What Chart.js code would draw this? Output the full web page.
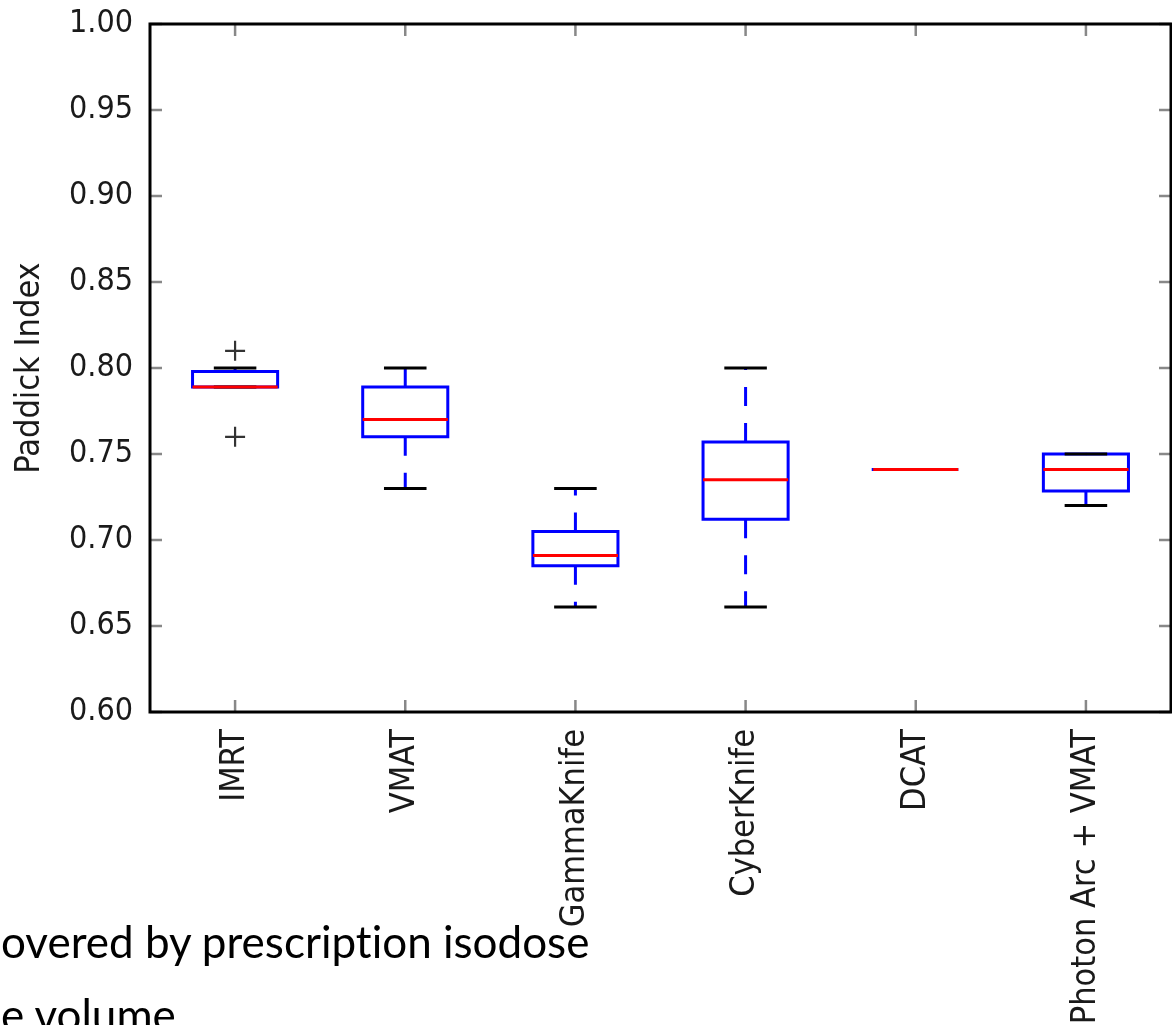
<!DOCTYPE html>
<html>
<head>
<meta charset="utf-8">
<script src="https://cdn.jsdelivr.net/npm/chart.js@4.4.1/dist/chart.umd.min.js"></script>
<style>
html,body{margin:0;padding:0;background:#fff;width:1172px;height:1025px;overflow:hidden;}
#wrap{position:absolute;left:0;top:0;width:1172px;height:1025px;}
.note{position:absolute;left:1px;font-family:Lato,'Open Sans',sans-serif;font-size:44px;line-height:44px;color:#000;white-space:nowrap;font-variant-ligatures:none;font-feature-settings:"liga" 0;}
</style>
</head>
<body>
<div id="wrap"><canvas id="c" width="1172" height="1025"></canvas></div>
<div class="note" style="top:919px">overed by prescription isodose</div>
<div class="note" style="top:992px">e volume</div>
<script>
// ---- data ----
const categories   = ['IMRT', 'VMAT', 'GammaKnife', 'CyberKnife', 'DCAT', 'Photon Arc + VMAT'];
const whiskerLow   = [0.789, 0.730, 0.661, 0.661, 0.741, 0.720];
const quartile1    = [0.789, 0.760, 0.685, 0.712, 0.741, 0.7285];
const medians      = [0.789, 0.770, 0.691, 0.735, 0.741, 0.741];
const quartile3    = [0.798, 0.789, 0.705, 0.757, 0.741, 0.750];
const whiskerHigh  = [0.800, 0.800, 0.730, 0.800, 0.741, 0.750];
const outlierCats  = ['IMRT', 'IMRT'];
const outlierVals  = [0.810, 0.760];
const yTickValues  = [0.60, 0.65, 0.70, 0.75, 0.80, 0.85, 0.90, 0.95, 1.00];
const yTitle       = 'Paddick Index';

const FONT = "'DejaVu Sans Condensed', 'DejaVu Sans', sans-serif";
const BOX_HALF = 0.25, CAP_HALF = 0.125;

const boxPts = [], medPts = [], capPts = [];
const datasets = [];
categories.forEach((c, i) => {
  const x = i + 1;
  boxPts.push({x: x - BOX_HALF, y: quartile1[i]}, {x: x + BOX_HALF, y: quartile1[i]},
              {x: x + BOX_HALF, y: quartile3[i]}, {x: x - BOX_HALF, y: quartile3[i]},
              {x: x - BOX_HALF, y: quartile1[i]}, {x: x, y: null});
  medPts.push({x: x - BOX_HALF, y: medians[i]}, {x: x + BOX_HALF, y: medians[i]}, {x: x, y: null});
  capPts.push({x: x - CAP_HALF, y: whiskerHigh[i]}, {x: x + CAP_HALF, y: whiskerHigh[i]}, {x: x, y: null},
              {x: x - CAP_HALF, y: whiskerLow[i]}, {x: x + CAP_HALF, y: whiskerLow[i]}, {x: x, y: null});
  // whiskers start at the box edge
  [[quartile3[i], whiskerHigh[i]], [quartile1[i], whiskerLow[i]]].forEach(([a, b]) => {
    datasets.push({
      data: [{x: x, y: a}, {x: x, y: b}], showLine: true, borderColor: '#0000ff', borderWidth: 3,
      borderDash: [19, 17], borderCapStyle: 'butt', pointRadius: 0, order: 5
    });
  });
});
datasets.push({data: boxPts, showLine: true, borderColor: '#0000ff', borderWidth: 3,
  borderJoinStyle: 'miter', borderCapStyle: 'square', pointRadius: 0, order: 4, spanGaps: false});
datasets.push({data: capPts, showLine: true, borderColor: '#000000', borderWidth: 3,
  borderCapStyle: 'butt', pointRadius: 0, order: 3, spanGaps: false});
datasets.push({data: medPts, showLine: true, borderColor: '#ff0000', borderWidth: 3,
  borderCapStyle: 'butt', pointRadius: 0, order: 2, spanGaps: false});
datasets.push({data: outlierVals.map((v, k) => ({x: categories.indexOf(outlierCats[k]) + 1, y: v})),
  showLine: false, pointStyle: 'cross', pointRadius: 10, borderColor: '#333', borderWidth: 2.2,
  backgroundColor: '#333', order: 1});

const framePlugin = {
  id: 'frame',
  afterDraw(chart) {
    const {ctx, chartArea: a, scales} = chart;
    const L = 12;
    ctx.save();
    ctx.strokeStyle = '#888';
    ctx.lineWidth = 2.5;
    ctx.beginPath();
    scales.y.ticks.forEach(t => {
      const py = scales.y.getPixelForValue(t.value);
      ctx.moveTo(a.left, py); ctx.lineTo(a.left + L, py);
      ctx.moveTo(a.right, py); ctx.lineTo(a.right - L, py);
    });
    scales.x.ticks.forEach(t => {
      const px = scales.x.getPixelForValue(t.value);
      ctx.moveTo(px, a.top); ctx.lineTo(px, a.top + L);
      ctx.moveTo(px, a.bottom); ctx.lineTo(px, a.bottom - L);
    });
    ctx.stroke();
    ctx.strokeStyle = '#000';
    ctx.lineWidth = 3;
    ctx.strokeRect(a.left, a.top, a.right - a.left, a.bottom - a.top);
    ctx.restore();
  }
};

new Chart(document.getElementById('c'), {
  type: 'scatter',
  data: {datasets},
  options: {
    responsive: false,
    animation: false,
    devicePixelRatio: 1,
    layout: {autoPadding: false, padding: {top: 24, right: 1, bottom: 0, left: 0}},
    plugins: {legend: {display: false}, tooltip: {enabled: false}},
    scales: {
      x: {
        type: 'linear', min: 0.5, max: 6.5,
        grid: {display: false, drawTicks: false, tickLength: 0},
        border: {display: false},
        afterBuildTicks: s => { s.ticks = categories.map((c, i) => ({value: i + 1})); },
        afterFit: s => { s.height = 313; s.paddingLeft = 0; s.paddingRight = 0; },
        ticks: {
          autoSkip: false, minRotation: 90, maxRotation: 90, padding: 17,
          color: '#1a1a1a', font: {family: FONT, size: 34},
          callback: v => categories[Math.round(v) - 1] || ''
        }
      },
      y: {
        type: 'linear', min: 0.6, max: 1.0,
        grid: {display: false, drawTicks: false, tickLength: 0},
        border: {display: false},
        afterBuildTicks: s => { s.ticks = yTickValues.map(v => ({value: v})); },
        afterFit: s => { s.width = 150; s.paddingTop = 0; s.paddingBottom = 0; },
        ticks: {
          padding: 17, color: '#1a1a1a', font: {family: FONT, size: 32},
          callback: v => Number(v).toFixed(2)
        },
        title: {display: true, text: yTitle, color: '#1a1a1a', font: {family: FONT, size: 34},
          padding: {top: 10, bottom: 0}}
      }
    }
  },
  plugins: [framePlugin]
});
</script>
</body>
</html>
